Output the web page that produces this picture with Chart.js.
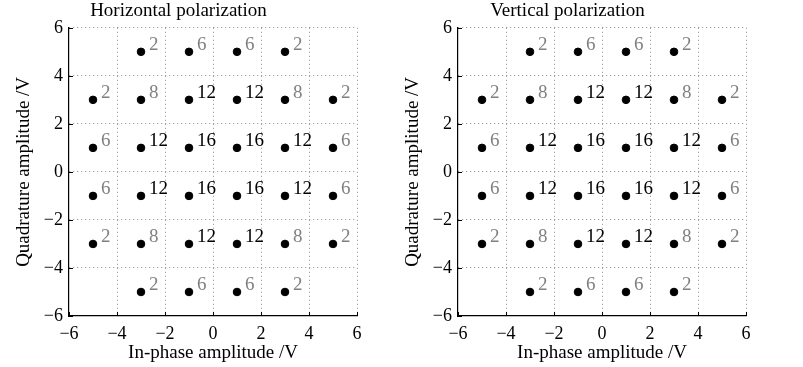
<!DOCTYPE html>
<html>
<head>
<meta charset="utf-8">
<script src="https://cdn.jsdelivr.net/npm/chart.js@4.4.1/dist/chart.umd.min.js"></script>
<style>
  html, body { margin: 0; padding: 0; background: #fff; }
  body { width: 803px; height: 367px; position: relative; overflow: hidden; }
  .panel { position: absolute; top: 0; width: 400px; height: 367px; }
  #left { left: 0; }
  #right { left: 389px; }
</style>
</head>
<body>
<div class="panel" id="left"><canvas id="chartH"></canvas></div>
<div class="panel" id="right"><canvas id="chartV"></canvas></div>
<script>
// constellation points (in-phase, quadrature) in volts
const inPhase = [
  -3, -1, 1, 3,
  -5, -3, -1, 1, 3, 5,
  -5, -3, -1, 1, 3, 5,
  -5, -3, -1, 1, 3, 5,
  -5, -3, -1, 1, 3, 5,
  -3, -1, 1, 3,
];
const quadrature = [
  5, 5, 5, 5,
  3, 3, 3, 3, 3, 3,
  1, 1, 1, 1, 1, 1,
  -1, -1, -1, -1, -1, -1,
  -3, -3, -3, -3, -3, -3,
  -5, -5, -5, -5,
];
// number annotated next to each point
const horizontalCounts = [
  2, 6, 6, 2,
  2, 8, 12, 12, 8, 2,
  6, 12, 16, 16, 12, 6,
  6, 12, 16, 16, 12, 6,
  2, 8, 12, 12, 8, 2,
  2, 6, 6, 2,
];
const verticalCounts = [
  2, 6, 6, 2,
  2, 8, 12, 12, 8, 2,
  6, 12, 16, 16, 12, 6,
  6, 12, 16, 16, 12, 6,
  2, 8, 12, 12, 8, 2,
  2, 6, 6, 2,
];
const axisTicks = [-6, -4, -2, 0, 2, 4, 6];

const FONT = "'Liberation Serif', 'DejaVu Serif', serif";

const countLabels = {
  id: "countLabels",
  afterDatasetsDraw(chart, args, opts) {
    const { ctx, scales } = chart;
    const counts = opts.counts || [];
    ctx.save();
    ctx.font = `19px ${FONT}`;
    ctx.textAlign = "left";
    ctx.textBaseline = "alphabetic";
    inPhase.forEach((x, i) => {
      const px = scales.x.getPixelForValue(x);
      const py = scales.y.getPixelForValue(quadrature[i]);
      ctx.fillStyle = counts[i] >= 12 ? "#000000" : "#808080";
      ctx.fillText(String(counts[i]), px + 8, py - 2);
    });
    ctx.restore();
  },
};

// short inward tick marks on the bottom and left axes
const innerTicks = {
  id: "innerTicks",
  afterDraw(chart) {
    const { ctx, chartArea, scales } = chart;
    ctx.save();
    ctx.strokeStyle = "#000";
    ctx.lineWidth = 1;
    ctx.beginPath();
    for (const v of axisTicks) {
      const px = Math.round(scales.x.getPixelForValue(v)) + 0.5;
      ctx.moveTo(px, chartArea.bottom);
      ctx.lineTo(px, chartArea.bottom - 4);
      const py = Math.round(scales.y.getPixelForValue(v)) + 0.5;
      ctx.moveTo(chartArea.left, py);
      ctx.lineTo(chartArea.left + 4, py);
    }
    ctx.stroke();
    ctx.restore();
  },
};

function fmtTick(v) {
  return v < 0 ? "\u2212" + Math.abs(v) : String(v);
}

function makeAxis(label, isY) {
  return {
    type: "linear",
    min: -6,
    max: 6,
    afterBuildTicks: (scale) => {
      scale.ticks = axisTicks.map((v) => ({ value: v }));
    },
    afterFit: (scale) => {
      if (isY) scale.width = 69;
      else scale.height = 51;
    },
    grid: {
      color: (c) => (c.tick && c.tick.value === -6 ? "rgba(0,0,0,0)" : "#8c8c8c"),
      lineWidth: 1,
      drawTicks: false,
    },
    border: { display: true, color: "#000", width: 1.2, dash: [1, 3] },
    ticks: {
      color: "#000",
      font: { family: FONT, size: 18 },
      padding: isY ? 6 : 7,
      callback: (v) => fmtTick(v),
    },
    title: {
      display: true,
      text: label,
      color: "#000",
      font: { family: FONT, size: 19 },
      padding: isY ? { top: 13, bottom: 0 } : { top: 0, bottom: 3 },
    },
  };
}

function makeChart(canvasId, title, counts) {
  const points = inPhase.map((x, i) => ({ x, y: quadrature[i] }));
  return new Chart(document.getElementById(canvasId), {
    type: "scatter",
    data: {
      datasets: [
        {
          data: points,
          backgroundColor: "#000",
          borderColor: "#000",
          pointRadius: 3.8,
          pointHoverRadius: 3.8,
        },
      ],
    },
    options: {
      responsive: false,
      animation: false,
      devicePixelRatio: 1,
      layout: { padding: { left: 0, right: 43, top: 0, bottom: 0 } },
      scales: {
        x: makeAxis("In-phase amplitude /V", false),
        y: makeAxis("Quadrature amplitude /V", true),
      },
      plugins: {
        legend: { display: false },
        tooltip: { enabled: false },
        title: {
          display: true,
          text: title,
          color: "#000",
          font: { family: FONT, size: 19, weight: "normal" },
          padding: { top: 0, bottom: 5 },
        },
        countLabels: { counts },
      },
    },
    plugins: [countLabels, innerTicks],
  });
}

for (const id of ["chartH", "chartV"]) {
  const c = document.getElementById(id);
  c.width = 400;
  c.height = 367;
}

makeChart("chartH", "Horizontal polarization", horizontalCounts);
makeChart("chartV", "Vertical polarization", verticalCounts);
</script>
</body>
</html>
